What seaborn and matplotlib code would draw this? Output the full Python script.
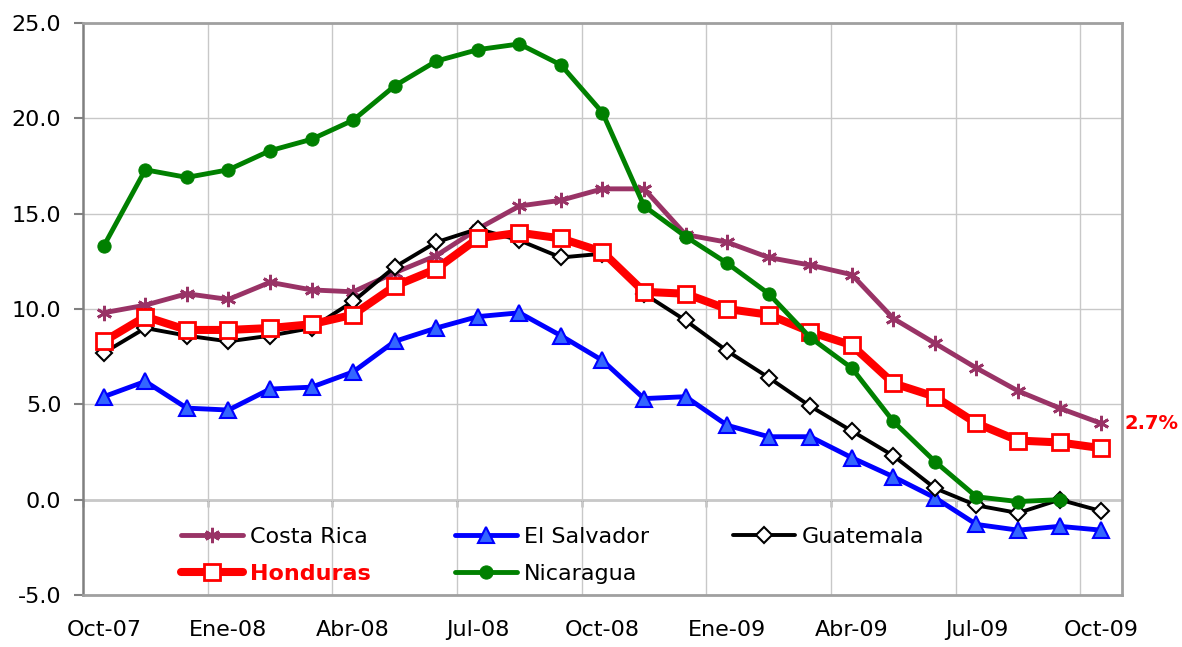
import numpy as np
import pandas as pd
import matplotlib.pyplot as plt
import seaborn as sns

# Datos: inflación interanual (%) Centroamérica, oct-07 a oct-09
meses = ['Oct-07', 'Nov-07', 'Dic-07', 'Ene-08', 'Feb-08', 'Mar-08', 'Abr-08',
         'May-08', 'Jun-08', 'Jul-08', 'Ago-08', 'Sep-08', 'Oct-08', 'Nov-08',
         'Dic-08', 'Ene-09', 'Feb-09', 'Mar-09', 'Abr-09', 'May-09', 'Jun-09',
         'Jul-09', 'Ago-09', 'Sep-09', 'Oct-09']

costa_rica = [9.8, 10.2, 10.8, 10.5, 11.4, 11.0, 10.9, 11.9, 12.8, 14.2, 15.4, 15.7,
              16.3, 16.3, 13.9, 13.5, 12.7, 12.3, 11.8, 9.5, 8.2, 6.9, 5.7, 4.8, 4.0]
el_salvador = [5.4, 6.2, 4.8, 4.7, 5.8, 5.9, 6.7, 8.3, 9.0, 9.6, 9.8, 8.6,
               7.3, 5.3, 5.4, 3.9, 3.3, 3.3, 2.2, 1.2, 0.1, -1.3, -1.6, -1.4, -1.6]
guatemala = [7.7, 9.0, 8.6, 8.3, 8.6, 9.0, 10.4, 12.2, 13.5, 14.2, 13.6, 12.7,
             12.9, 10.8, 9.4, 7.8, 6.4, 4.9, 3.6, 2.3, 0.6, -0.3, -0.7, 0.0, -0.6]
honduras = [8.3, 9.6, 8.9, 8.9, 9.0, 9.2, 9.7, 11.2, 12.1, 13.7, 14.0, 13.7,
            13.0, 10.9, 10.8, 10.0, 9.7, 8.8, 8.1, 6.1, 5.4, 4.0, 3.1, 3.0, 2.7]
nicaragua = [13.3, 17.3, 16.9, 17.3, 18.3, 18.9, 19.9, 21.7, 23.0, 23.6, 23.9, 22.8,
             20.3, 15.4, 13.8, 12.4, 10.8, 8.5, 6.9, 4.1, 2.0, 0.15, -0.1, 0.0, np.nan]

df = pd.DataFrame({
    'mes': np.arange(len(meses)),
    'Costa Rica': costa_rica,
    'El Salvador': el_salvador,
    'Guatemala': guatemala,
    'Honduras': honduras,
    'Nicaragua': nicaragua,
})

sns.set_theme(style="white")
plt.rcParams['font.family'] = ['DejaVu Sans']
plt.rcParams['font.size'] = 16
plt.rcParams['text.color'] = 'black'

fig = plt.figure(figsize=(11.82, 6.47), dpi=100)
ax = fig.add_axes([0.0702, 0.0804, 0.8790, 0.8841])

# estilos por país (orden de dibujo como en Excel)
estilos = {
    'Costa Rica': dict(color='#993366', lw=3.5, marker=(6, 2, 0), markersize=11,
                       markeredgewidth=2, markeredgecolor='#993366'),
    'El Salvador': dict(color='#0000FF', lw=3.5, marker='^', markersize=12,
                        markerfacecolor='#3366FF', markeredgecolor='#0000FF', markeredgewidth=1.5),
    'Guatemala': dict(color='black', lw=2.8, marker='D', markersize=8,
                      markerfacecolor='white', markeredgecolor='black', markeredgewidth=1.5),
    'Honduras': dict(color='#FF0000', lw=5.8, marker='s', markersize=11.5,
                     markerfacecolor='white', markeredgecolor='#FF0000', markeredgewidth=2),
    'Nicaragua': dict(color='#008000', lw=3.5, marker='o', markersize=9.5,
                      markerfacecolor='#008000', markeredgecolor='#008000'),
}

for pais, st in estilos.items():
    sub = df[['mes', pais]].dropna()
    sns.lineplot(data=sub, x='mes', y=pais, ax=ax, label=pais, errorbar=None,
                 solid_capstyle='round', **st)

ax.set_xlabel('')
ax.set_ylabel('')
ax.set_xlim(-0.5, len(meses) - 0.5)
ax.set_ylim(-5, 25)

# eje Y
ax.set_yticks(np.arange(-5, 26, 5))
ax.set_yticklabels([f'{v:.1f}' for v in np.arange(-5, 26, 5)])
ax.tick_params(axis='y', left=True, length=6.5, width=1.5, color='#808080', pad=9,
               labelsize=16, labelcolor='black')

# eje X: etiquetas trimestrales, rejilla entre categorías
ax.set_xticks(np.arange(0, len(meses), 3))
ax.set_xticklabels(meses[::3])
ax.set_xticks(np.arange(2.5, len(meses) - 1, 3), minor=True)
ax.tick_params(axis='x', which='both', length=0, pad=18, labelsize=16, labelcolor='black')

ax.grid(False)
ax.yaxis.grid(True, color='#C8C8C8', lw=1)
ax.xaxis.grid(True, which='minor', color='#C8C8C8', lw=1)

for lado in ['top', 'right', 'bottom']:
    ax.spines[lado].set_color('#A0A0A0')
    ax.spines[lado].set_linewidth(2)
ax.spines['left'].set_color('#808080')
ax.spines['left'].set_linewidth(1.8)

# línea de cero con marcas
sec = ax.secondary_xaxis(0, transform=ax.transData)
sec.set_xticks(np.arange(-0.5, len(meses) - 1, 3))
sec.tick_params(axis='x', length=5, width=1, color='black', labelbottom=False)
sec.spines['bottom'].set_color('black')
sec.spines['bottom'].set_linewidth(1)

# leyenda
handles, labels = ax.get_legend_handles_labels()
orden = [0, 3, 1, 4, 2]
leg = ax.legend([handles[i] for i in orden], [labels[i] for i in orden],
                ncol=3, frameon=False, loc='lower left', bbox_to_anchor=(0.094, 0.02),
                borderaxespad=0, borderpad=0, handlelength=2.8, handletextpad=0.3,
                columnspacing=3.8, labelspacing=0.75, fontsize=16)
for t in leg.get_texts():
    t.set_color('black')
    if t.get_text() == 'Honduras':
        t.set_color('#FF0000')
        t.set_fontweight('bold')

# etiqueta del último dato de Honduras
ax.annotate(f'{honduras[-1]:.1f}%', xy=(len(meses) - 1, honduras[-1]),
            xytext=(16.5, 18), textcoords='offset points', ha='left', va='center',
            color='#FF0000', fontweight='bold', fontsize=14, annotation_clip=False)

plt.savefig('out.png', dpi=100)
plt.close()
